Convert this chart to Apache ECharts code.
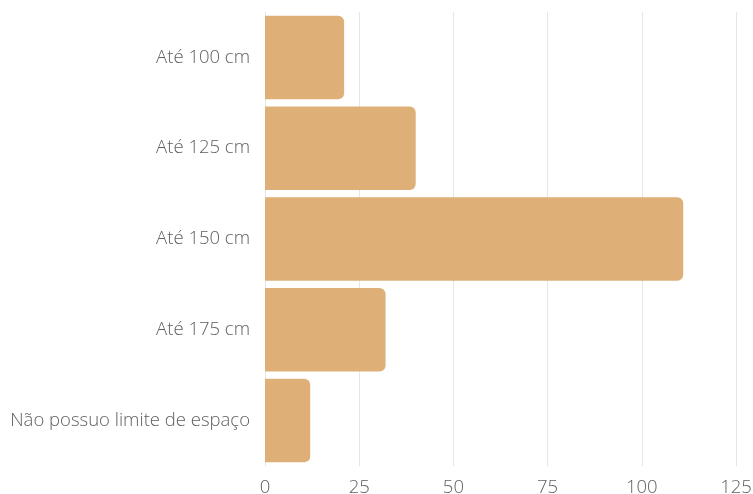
<!DOCTYPE html>
<html>
<head>
<meta charset="utf-8">
<script src="https://cdn.jsdelivr.net/npm/echarts@6/dist/echarts.min.js"></script>
<style>
  html, body { margin: 0; padding: 0; background: #ffffff; }
  #chart { width: 753px; height: 494px; }
</style>
</head>
<body>
<div id="chart"></div>
<script>
// Espaço disponível para o equipamento (respostas)
const categories = ['Até 100 cm', 'Até 125 cm', 'Até 150 cm', 'Até 175 cm', 'Não possuo limite de espaço'];
const values = [21, 40, 111, 32, 12];
const tickValues = [0, 25, 50, 75, 100, 125];

const chart = echarts.init(document.getElementById('chart'));
chart.setOption({
  animation: false,
  grid: { left: 265, right: 17, top: 12, bottom: 28, containLabel: false, outerBoundsMode: 'none' },
  xAxis: {
    type: 'value',
    min: tickValues[0],
    max: tickValues[tickValues.length - 1],
    interval: 25,
    axisLine: { show: false },
    axisTick: { show: false },
    axisLabel: { color: '#606060', fontFamily: 'Open Sans', fontWeight: 300, fontSize: 18.5, margin: 12 },
    splitLine: { lineStyle: { color: '#e4e6ea', width: 1 } }
  },
  yAxis: {
    type: 'category',
    data: categories,
    inverse: true,
    axisLine: { show: false },
    axisTick: { show: false },
    axisLabel: { color: '#606060', fontFamily: 'Open Sans', fontWeight: 300, fontSize: 18.5, margin: 15 }
  },
  series: [{
    type: 'bar',
    data: values,
    barCategoryGap: '8%',
    itemStyle: { color: '#deb078', borderRadius: [0, 6, 6, 0] }
  }]
});
</script>
</body>
</html>
